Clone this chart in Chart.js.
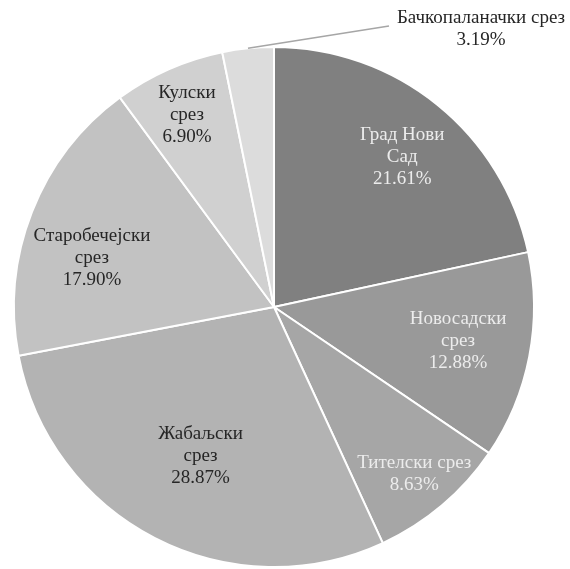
<!DOCTYPE html>
<html>
<head>
<meta charset="utf-8">
<script src="https://cdn.jsdelivr.net/npm/chart.js@4"></script>
<style>
  html, body { margin: 0; padding: 0; background: #fff; }
  #wrap { width: 570px; height: 569px; position: relative; }
</style>
</head>
<body>
<div id="wrap"><canvas id="pie"></canvas></div>
<script>
// data
var districts = [
  ["Град Нови", "Сад"],
  ["Новосадски", "срез"],
  ["Тителски срез"],
  ["Жабаљски", "срез"],
  ["Старобечејски", "срез"],
  ["Кулски", "срез"],
  ["Бачкопаланачки срез"]
];
var shares = [21.61, 12.88, 8.63, 28.87, 17.90, 6.90, 3.19];

var sliceColors = ['#808080', '#999999', '#a6a6a6', '#b3b3b3', '#c2c2c2', '#d0d0d0', '#dcdcdc'];
var textColors  = ['#ececec', '#ececec', '#ececec', '#262626', '#262626', '#262626', '#262626'];
// label placement inside each slice: [fraction along the arc, fraction of radius]; null = outside
var labelSpot = [[0.52, 0.76], [0.49, 0.72], [0.51, 0.84], [0.49, 0.64], [0.40, 0.725], [0.48, 0.81], null];

var FONT = '19px "Liberation Serif", "Times New Roman", serif';
var LINE = 22;

var sliceLabels = {
  id: 'sliceLabels',
  afterDatasetsDraw: function(chart) {
    var ctx = chart.ctx;
    var arcs = chart.getDatasetMeta(0).data;
    ctx.save();
    ctx.font = FONT;
    ctx.textAlign = 'center';
    ctx.textBaseline = 'middle';
    arcs.forEach(function(arc, i) {
      var lines = districts[i].concat([shares[i].toFixed(2) + '%']);
      var p = arc.getProps(['x', 'y', 'startAngle', 'endAngle', 'outerRadius'], true);
      if (labelSpot[i]) {
        var a = p.startAngle + (p.endAngle - p.startAngle) * labelSpot[i][0];
        var r = p.outerRadius * labelSpot[i][1];
        var cx = p.x + Math.cos(a) * r;
        var cy = p.y + Math.sin(a) * r;
        ctx.fillStyle = textColors[i];
        var top = cy - (lines.length - 1) * LINE / 2;
        lines.forEach(function(t, k) { ctx.fillText(t, cx, top + k * LINE); });
      } else {
        // outside label with a leader line
        var am = (p.startAngle + p.endAngle) / 2;
        var sx = p.x + Math.cos(am) * p.outerRadius;
        var sy = p.y + Math.sin(am) * p.outerRadius;
        var lx = chart.width - 89, ly = 18;
        ctx.strokeStyle = '#a6a6a6';
        ctx.lineWidth = 1.5;
        ctx.beginPath();
        ctx.moveTo(sx, sy);
        ctx.lineTo(lx - 92, ly + 8);
        ctx.stroke();
        ctx.fillStyle = '#262626';
        ctx.fillText(districts[i][0], lx, ly);
        ctx.fillText(lines[1], lx, ly + LINE);
      }
    });
    ctx.restore();
  }
};

new Chart(document.getElementById('pie').getContext('2d'), {
  type: 'pie',
  data: {
    labels: districts.map(function(d) { return d.join(' '); }),
    datasets: [{
      data: shares,
      backgroundColor: sliceColors,
      borderColor: '#ffffff',
      borderWidth: 2
    }]
  },
  options: {
    responsive: true,
    maintainAspectRatio: false,
    animation: false,
    layout: { padding: { top: 46, left: 13, right: 35, bottom: 1 } },
    plugins: {
      legend: { display: false },
      tooltip: { enabled: false }
    }
  },
  plugins: [sliceLabels]
});
</script>
</body>
</html>
